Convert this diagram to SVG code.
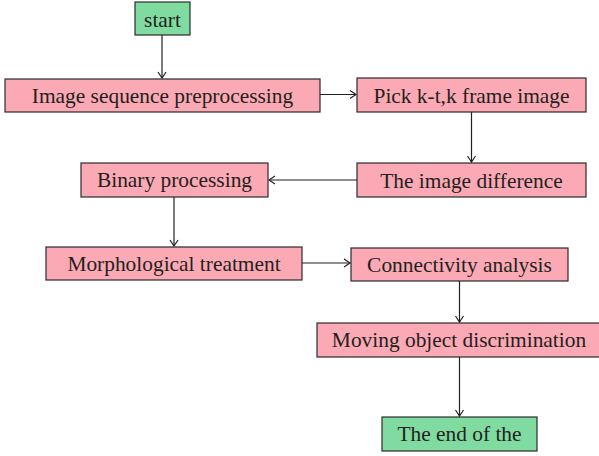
<svg xmlns="http://www.w3.org/2000/svg" width="599" height="456" viewBox="0 0 599 456">
<style>
.p{fill:#fbaab5;stroke:#2b2b2b;stroke-width:1.2}
.g{fill:#80dba0;stroke:#2b2b2b;stroke-width:1.2}
text{font-family:"Liberation Serif",serif;font-size:21.4px;fill:#231f20;text-anchor:middle}
.c{stroke:#231f20;stroke-width:1.2;fill:none;marker-end:url(#a)}
</style>
<defs>
<marker id="a" viewBox="0 0 10 10" refX="9" refY="5" markerWidth="10" markerHeight="10" markerUnits="userSpaceOnUse" orient="auto">
<path d="M3,1 L9,5 L3,9" fill="none" stroke="#231f20" stroke-width="1.2"/>
</marker>
</defs>
<g id="start"><rect class="g" x="135" y="2" width="55" height="33"/><text x="162.5" y="26.5">start</text></g>
<g id="preprocess"><rect class="p" x="5" y="79" width="315" height="33"/><text x="162.5" y="103.3">Image sequence preprocessing</text></g>
<g id="pick"><rect class="p" x="357" y="78" width="229" height="34"/><text x="471.5" y="102.7">Pick k-t,k frame image</text></g>
<g id="difference"><rect class="p" x="357" y="163" width="229" height="34"/><text x="471.5" y="188">The image difference</text></g>
<g id="binary"><rect class="p" x="81" y="163" width="187" height="34"/><text x="174.5" y="187.3">Binary processing</text></g>
<g id="morph"><rect class="p" x="46" y="247" width="256" height="33"/><text x="174" y="270.7">Morphological treatment</text></g>
<g id="connect"><rect class="p" x="351" y="248" width="217" height="33"/><text x="459.5" y="271.7">Connectivity analysis</text></g>
<g id="moving"><rect class="p" x="317" y="323" width="284" height="34"/><text x="459" y="347.3">Moving object discrimination</text></g>
<g id="end"><rect class="g" x="382" y="417" width="155" height="34"/><text x="459.5" y="441">The end of the</text></g>
<g id="connectors">
<path class="c" d="M162,35 V78"/>
<path class="c" d="M320,94.5 H356"/>
<path class="c" d="M471.5,112 V162"/>
<path class="c" d="M357,180 H269"/>
<path class="c" d="M174,197 V246"/>
<path class="c" d="M302,263 H350"/>
<path class="c" d="M459.5,281 V322"/>
<path class="c" d="M459.5,357 V416"/>
</g>
</svg>
